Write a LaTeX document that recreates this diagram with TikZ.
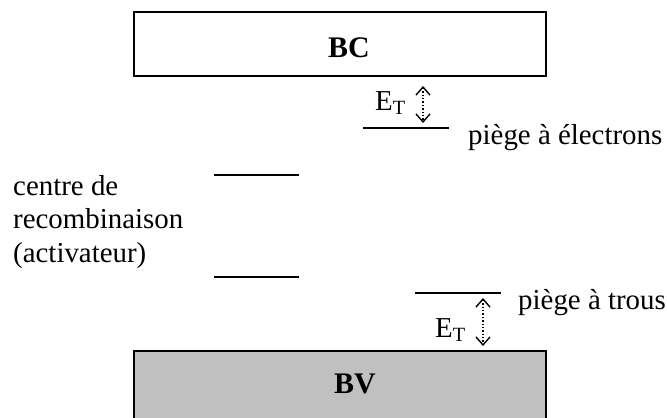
\documentclass[tikz,border=0pt]{standalone}
\usepackage{fontspec}
\setmainfont{Liberation Serif}
\usetikzlibrary{arrows.meta}
\definecolor{bvgray}{RGB}{192,192,192}

\begin{document}
\begin{tikzpicture}[x=1bp,y=-1bp,
	every node/.style={inner sep=0pt,font=\fontsize{29}{33.5}\selectfont},
	band/.style={draw,line width=1.8bp,minimum width=412bp},
	bandname/.style={font=\fontsize{30}{30}\bfseries\selectfont},
	level/.style={line width=2bp},
	gap/.style={dotted,line width=1.4bp,{Straight Barb[length=8bp,width=14bp]}-{Straight Barb[length=8bp,width=14bp]}}]
\useasboundingbox (0,0) rectangle (667,417);

% bandes
\node[band,minimum height=64bp] (bc) at (340,44) {};
\node[bandname] (bcname) at (349,48) {BC};
\node[band,fill=bvgray,minimum height=80bp] (bv) at (340,391) {};
\node[bandname] (bvname) at (355,384) {BV};

% niveaux
\draw[level] (363,128) coordinate (elA) -- (449,128) coordinate (elB);
\draw[level] (214,175) coordinate (rcA) -- (299,175) coordinate (rcB);
\draw[level] (214,277) coordinate (raA) -- (299,277) coordinate (raB);
\draw[level] (415,293) coordinate (trA) -- (501,293) coordinate (trB);

% profondeurs E_T
\coordinate (gapA) at (423,86);
\coordinate (gapB) at (423,123);
\draw[gap] (gapA) -- (gapB);
\coordinate (gapC) at (483,298);
\coordinate (gapD) at (483,346);
\draw[gap] (gapC) -- (gapD);
\node[anchor=base west] (etup) at (375,110) {E\textsubscript{T}};
\node[anchor=base west] (etdown) at (435,337) {E\textsubscript{T}};

% textes
\node[anchor=base west] (electrons) at (468,144) {piège à électrons};
\node[anchor=base west] (trous) at (518,309) {piège à trous};
\node[anchor=north west,align=left] (centre) at (13,175) {centre de\\recombinaison\\(activateur)};
\end{tikzpicture}
\end{document}
